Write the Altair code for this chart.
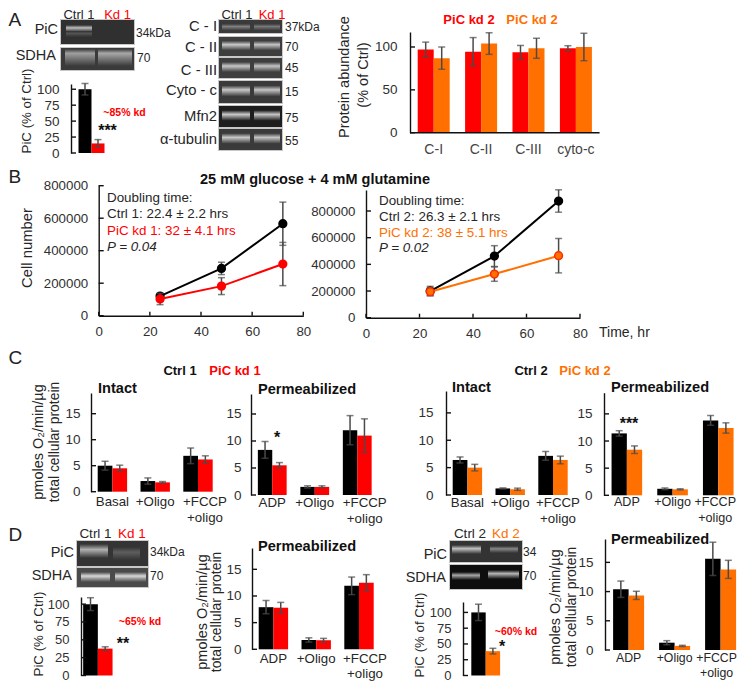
import altair as alt
import pandas as pd

# ---------- data ----------
A_groups = ["C-I", "C-II", "C-III", "cyto-c"]
A_red = [97, 94.5, 94, 98.5]
A_red_err = [8.7, 16.5, 7.8, 3]
A_org = [87, 104, 98.5, 100]
A_org_err = [13, 12.6, 11.7, 16]

hours = [24, 48, 72]
B1_ctrl = [121000, 291000, 566000]
B1_ctrl_err = [15000, 38000, 133000]
B1_kd = [103000, 182000, 318000]
B1_kd_err = [35000, 52000, 133000]
B2_ctrl = [200000, 462000, 875000]
B2_ctrl_err = [35000, 78000, 84000]
B2_kd = [195000, 327000, 465000]
B2_kd_err = [30000, 54000, 129000]

basal_groups = ["Basal", "+Oligo", "+FCCP\n+oligo"]
adp_groups = ["ADP", "+Oligo", "+FCCP\n+oligo"]
C1i_c, C1i_ce, C1i_k, C1i_ke = [5.0, 2.05, 6.9], [0.85, 0.6, 1.5], [4.5, 1.8, 6.2], [0.6, 0.15, 0.7]
C1p_c, C1p_ce, C1p_k, C1p_ke = [8.35, 1.5, 12.0], [1.55, 0.2, 2.7], [5.5, 1.5, 11.0], [0.5, 0.2, 3.1]
C2i_c, C2i_ce, C2i_k, C2i_ke = [6.4, 1.2, 7.15], [0.55, 0.1, 0.8], [5.0, 1.05, 6.4], [0.6, 0.2, 0.7]
C2p_c, C2p_ce, C2p_k, C2p_ke = [11.4, 1.2, 13.8], [0.5, 0.15, 0.9], [8.4, 1.1, 12.4], [0.7, 0.1, 0.95]
D1p_c, D1p_ce, D1p_k, D1p_ke = [7.9, 1.75, 11.9], [1.25, 0.4, 1.65], [7.8, 1.7, 12.5], [1.0, 0.35, 1.5]
D2p_c, D2p_ce, D2p_k, D2p_ke = [10.4, 1.25, 15.6], [1.4, 0.35, 2.85], [9.35, 0.7, 13.8], [0.7, 0.1, 1.55]

PiC_A, PiC_A_err = [100, 15], [9, 6]
PiC_D1, PiC_D1_err = [100, 37.7], [9, 2.5]
PiC_D2, PiC_D2_err = [100, 38.6], [13, 4.5]

mid_names = ["C - I", "C - II", "C - III", "Cyto - c", "Mfn2", "\u03b1-tubulin"]
mid_sizes = ["37kDa", "70", "45", "15", "75", "55"]

# ---------- style ----------
RED, ORG, BLK = "#ff0000", "#ff7000", "#000000"
FONT = "Liberation Sans"
INK = "#262626"
ERR = "#4a4a4a"
W, H = 729, 675
layers = []


def X(v):
    return v - 8


def Y(v):
    return v - 8


def label(text, x, y, size=13.4, color=INK, weight="normal", align="center", angle=0, style="normal", font=FONT):
    kw = dict(angle=angle) if angle else {}
    layers.append(
        alt.Chart(pd.DataFrame({"t": [text]}))
        .mark_text(fontSize=size, color=color, fontWeight=weight, align=align, baseline="middle",
                   fontStyle=style, font=font, **kw)
        .encode(x=alt.value(X(x)), y=alt.value(Y(y)), text="t:N")
    )


def y_axis(ticks, sy, ax, lab_gap, size=13.5, ticklen=5, fmt="d"):
    layers.append(
        alt.Chart(pd.DataFrame({"v": ticks}))
        .mark_rule(color="#111111", strokeWidth=1.4)
        .encode(
            y=alt.Y("v:Q", scale=sy, axis=alt.Axis(
                orient="left", offset=-X(ax), values=ticks, ticks=False, tickSize=0, grid=False, title=None,
                domain=True, domainColor="#111111", domainWidth=1.4, labelFontSize=size, labelFont=FONT,
                labelColor="#303030", labelPadding=lab_gap, format=fmt, labelOverlap=False, labelFlush=False)),
            x=alt.value(X(ax)), x2=alt.value(X(ax) + ticklen),
        )
    )


def x_axis(ticks, sx, ybase, lab_gap=8, size=13.3):
    layers.append(
        alt.Chart(pd.DataFrame({"v": ticks}))
        .mark_rule(color="#111111", strokeWidth=1.4)
        .encode(
            x=alt.X("v:Q", scale=sx, axis=alt.Axis(
                orient="bottom", offset=-(H - Y(ybase)), values=ticks, ticks=False, tickSize=0, grid=False,
                title=None, domain=True, domainColor="#111111", domainWidth=1.4, labelFontSize=size,
                labelFont=FONT, labelColor="#303030", labelPadding=lab_gap, format="d", labelOverlap=False,
                labelFlush=False)),
            y=alt.value(Y(ybase)), y2=alt.value(Y(ybase) - 4),
        )
    )


def errors(df, sx, sy, xf, color=ERR, width=1.5, cap=7):
    lo = df.assign(lo=df.v - df.e, hi=df.v + df.e)
    xe = alt.X(f"{xf}:Q", scale=sx, axis=None)
    layers.append(alt.Chart(lo).mark_rule(color=color, strokeWidth=width).encode(
        x=xe, y=alt.Y("lo:Q", scale=sy, axis=None), y2="hi:Q"))
    for f in ("lo", "hi"):
        layers.append(alt.Chart(lo).mark_tick(color=color, thickness=width, size=cap, orient="horizontal").encode(
            x=xe, y=alt.Y(f"{f}:Q", scale=sy, axis=None)))


def bars(names, s1, e1, s2, e2, c1, c2, x0, period, bw, ybase, ytop, vtop, ticks, lab_gap, label_y=None,
         ax=None, baseline=False, tick_size=13.5, cap=7, label_size=13.3, label_color=INK, line_h=16, last_shift=0):
    n = len(names)
    sx = alt.Scale(domain=[0, n], range=[X(x0), X(x0 + n * period)], nice=False, zero=False)
    sy = alt.Scale(domain=[0, vtop], range=[Y(ybase), Y(ytop)], nice=False, zero=False)
    pad = 0.5 - bw / period
    rows = []
    for i in range(n):
        rows.append(dict(a=i + pad, b=i + 0.5, c=i + pad + bw / period / 2, v=s1[i], e=e1[i], z=0, col=c1))
    for i in range(n):
        rows.append(dict(a=i + 0.5, b=i + 1 - pad, c=i + 0.5 + bw / period / 2, v=s2[i], e=e2[i], z=0, col=c2))
    df = pd.DataFrame(rows)
    for col, g in df.groupby("col", sort=False):
        layers.append(alt.Chart(g).mark_bar(color=col, cornerRadius=0).encode(
            x=alt.X("a:Q", scale=sx, axis=None), x2="b:Q",
            y=alt.Y("v:Q", scale=sy, axis=None), y2="z:Q"))
    errors(df, sx, sy, "c", cap=cap)
    if baseline:
        x_line = pd.DataFrame({"a": [0], "b": [n], "z": [0]})
        layers.append(alt.Chart(x_line).mark_rule(color="#111111", strokeWidth=1.4).encode(
            x=alt.X("a:Q", scale=sx, axis=None), x2="b:Q", y=alt.Y("z:Q", scale=sy, axis=None)))
    y_axis(ticks, sy, ax if ax is not None else x0, lab_gap, size=tick_size)
    if label_y is not None:
        centres = [i + 0.5 for i in range(n)]
        centres[-1] -= last_shift / period
        t = pd.DataFrame({"c": centres, "t": names})
        layers.append(alt.Chart(t).mark_text(fontSize=label_size, font=FONT, color=label_color, baseline="top",
                                             lineBreak="\n", lineHeight=line_h, align="center").encode(
            x=alt.X("c:Q", scale=sx, axis=None), y=alt.value(Y(label_y) - 7), text="t:N"))


def curve(t, ys, es, color, sx, sy, fill=None, ring=None):
    df = pd.DataFrame({"h": t, "v": ys, "e": es})
    xe = alt.X("h:Q", scale=sx, axis=None)
    ye = alt.Y("v:Q", scale=sy, axis=None)
    errors(df, sx, sy, "h", cap=7)
    layers.append(alt.Chart(df).mark_line(color=color, strokeWidth=2).encode(x=xe, y=ye))
    layers.append(alt.Chart(df).mark_point(filled=True, size=60, opacity=1, fill=fill or color,
                                           stroke=ring or color, strokeWidth=1.5).encode(x=xe, y=ye))


def rect(x0, y0, x1, y1, fill):
    layers.append(alt.Chart(pd.DataFrame({"k": [0]})).mark_rect(fill=fill).encode(
        x=alt.value(X(x0)), x2=alt.value(X(x1)), y=alt.value(Y(y0)), y2=alt.value(Y(y1))))


def vgrad(bg, hi, peak=0.4):
    return {"gradient": "linear", "x1": 0, "y1": 0, "x2": 0, "y2": 1,
            "stops": [{"offset": 0, "color": bg}, {"offset": peak, "color": hi}, {"offset": 1, "color": bg}]}


def blot(x0, y0, x1, y1, bg, bands):
    # each band is (left, right, top, bottom, colour[, peak])
    rect(x0 - 1, y0 - 1, x1 + 1, y1 + 1, "#c8c8c8")
    rect(x0, y0, x1, y1, bg)
    for b in bands:
        rect(b[0], b[2], b[1], b[3], vgrad(bg, b[4], b[5] if len(b) > 5 else 0.4))


STAR = dict(size=16, color="#111111", weight="bold")

# ---------- panel letters ----------
for letter, y in (("A", 20), ("B", 177), ("C", 358), ("D", 535)):
    label(letter, 8.5, y, size=19, color="#222222", align="left")

# ---------- panel A ----------
label("Ctrl 1", 79, 15, size=13)
label("Kd 1", 117.5, 15, size=13, color=RED)
blot(61, 20, 134, 44, "#303030", [(66, 92, 25, 32, "#bcbcbc"), (66, 92, 31, 37, "#555555")])
blot(61, 48, 134, 70, "#3a3a3a", [(65, 95, 49, 66, "#a0a0a0", 0.25), (98, 132, 49, 66, "#a8a8a8", 0.25)])
label("PiC", 58, 30, size=14.5, align="right")
label("SDHA", 56, 56, size=14.5, align="right")
label("34kDa", 136, 33, size=12, align="left")
label("70", 137, 58, size=12, align="left")

bars(["a"], PiC_A[:1], PiC_A_err[:1], PiC_A[1:], PiC_A_err[1:], BLK, RED, 71, 2 * 20.5, 13, 153, 84, 108.2,
     [0, 25, 50, 75, 100], 12)
label("PiC (% of Ctrl)", 27, 111, size=13.3, angle=270)
label("~85% kd", 124.5, 113, size=10.5, color=RED, weight="bold")
label("***", 107.5, 131, **STAR)

# middle blots
label("Ctrl 1", 237, 15, size=13)
label("Kd 1", 272, 15, size=13, color=RED)
rows = [(20, 33), (37, 56), (58, 78), (81, 103), (106, 127), (129, 150)]
bgs = ["#3a3a3a", "#3e3e3e", "#3e3e3e", "#3a3a3a", "#1e1e1e", "#3a3a3a"]
name_y = [27, 48, 71, 91, 117, 140]
size_y = [27, 47, 68, 92, 118, 141]
for (y0, y1), bg, nm, sz, ny, zy in zip(rows, bgs, mid_names, mid_sizes, name_y, size_y):
    h = y1 - y0
    bands = [(222, 250, y0 + 0.2 * h, y0 + 0.7 * h, "#c8c8c8"), (254, 280, y0 + 0.2 * h, y0 + 0.7 * h, "#c4c4c4")]
    if nm == "C - I":
        bands = [(222, 250, y0 + 0.3 * h, y0 + 0.8 * h, "#808080"), (254, 280, y0 + 0.3 * h, y0 + 0.8 * h, "#787878")]
    blot(219, y0, 282, y1, bg, bands)
    label(nm, 217, ny, size=14.8, align="right")
    label(sz, 285, zy, size=12, align="left")

# right bars
label("PiC kd 2", 469, 20, size=13, color=RED, weight="bold")
label("PiC kd 2", 532, 20, size=13, color=ORG, weight="bold")
bars(A_groups, A_red, A_red_err, A_org, A_org_err, RED, ORG, 410, 47.4, 16, 132.7, 32, 117.5, [0, 50, 100], 13,
     label_y=150, baseline=True, cap=7, label_color="#444444", label_size=14)
label("Protein abundance", 345, 77, size=14.5, angle=270)
label("(% of Ctrl)", 364, 75, size=14.5, angle=270)

# ---------- panel B ----------
label("25 mM glucose + 4 mM glutamine", 315, 180, size=14.5, color="#111111", weight="bold")
sx1 = alt.Scale(domain=[0, 80], range=[X(98.7), X(303.3)], nice=False, zero=False)
sy1 = alt.Scale(domain=[0, 800000 * (315.7 - 185) / (315.7 - 185.7)], range=[Y(315.7), Y(185)], nice=False, zero=False)
y_axis([0, 200000, 400000, 600000, 800000], sy1, 98.7, 11, size=13.3, fmt="d")
x_axis([0, 20, 40, 60, 80], sx1, 315.7, lab_gap=9)
curve(hours, B1_ctrl, B1_ctrl_err, BLK, sx1, sy1)
curve(hours, B1_kd, B1_kd_err, RED, sx1, sy1)
label("Cell number", 28, 248, size=14.8, angle=270)
label("Doubling time:", 107, 198, align="left")
label("Ctrl 1: 22.4 \u00b1 2.2 hrs", 107, 214, align="left")
label("PiC kd 1: 32 \u00b1 4.1 hrs", 107, 231, color=RED, align="left")
label("P = 0.04", 107, 247, align="left", style="italic")

sx2 = alt.Scale(domain=[0, 80], range=[X(366), X(580)], nice=False, zero=False)
sy2 = alt.Scale(domain=[0, 957500], range=[Y(317.7), Y(190)], nice=False, zero=False)
y_axis([0, 200000, 400000, 600000, 800000], sy2, 366, 11, size=13.3)
x_axis([0, 20, 40, 60, 80], sx2, 317.7, lab_gap=9)
curve(hours, B2_ctrl, B2_ctrl_err, BLK, sx2, sy2)
curve(hours, B2_kd, B2_kd_err, ORG, sx2, sy2, fill="#ff7000", ring="#ff2a00")
label("Doubling time:", 379, 201, align="left")
label("Ctrl 2: 26.3 \u00b1 2.1 hrs", 379, 217, align="left")
label("PiC kd 2: 38 \u00b1 5.1 hrs", 379, 233, color=ORG, align="left")
label("P = 0.02", 379, 248, align="left", style="italic")
label("Time, hr", 599, 333, size=14, align="left")

# ---------- panel C ----------
label("Ctrl 1", 180, 371, size=13, color="#111111", weight="bold")
label("PiC kd 1", 235, 371, size=13, color=RED, weight="bold")
label("Ctrl 2", 531, 371, size=13, color="#111111", weight="bold")
label("PiC kd 2", 585, 371, size=13, color=ORG, weight="bold")
for t, x, y in (("Intact", 98, 389), ("Permeabilized", 258, 390), ("Intact", 452, 388), ("Permeabilized", 611, 388),
                ("Permeabilized", 258, 547), ("Permeabilized", 611, 540)):
    label(t, x, y, size=14.6, color="#111111", weight="bold", align="left")

bars(basal_groups, C1i_c, C1i_ce, C1i_k, C1i_ke, BLK, RED, 91, 42.8, 14.7, 491.7, 393, 18.98, [0, 5, 10, 15], 11,
     label_y=502, last_shift=-7)
bars(adp_groups, C1p_c, C1p_ce, C1p_k, C1p_ke, BLK, RED, 251, 42.5, 14.4, 495, 394, 18.7, [0, 5, 10, 15], 10,
     label_y=502.7, last_shift=-7.5)
bars(basal_groups, C2i_c, C2i_ce, C2i_k, C2i_ke, BLK, ORG, 446, 42.8, 14.7, 495, 391, 19.0, [0, 5, 10, 15], 13,
     label_y=503, last_shift=-5)
bars(adp_groups, C2p_c, C2p_ce, C2p_k, C2p_ke, BLK, ORG, 604, 45.7, 15.3, 495.3, 392.7, 18.9, [0, 5, 10, 15], 12,
     label_y=503, last_shift=3, label_size=12.6)
label("pmoles O\u2082/min/\u00b5g", 39, 442, size=14.5, angle=270)
label("total cellular protein", 55, 442, size=13.9, angle=270)
label("*", 277, 438, **STAR)
label("***", 629, 424, **STAR)

# ---------- panel D ----------
label("Ctrl 1", 95.5, 534, size=13.5)
label("Kd 1", 132, 534, size=13.5, color=RED)
blot(77, 541, 148, 566, "#343434", [(80, 108, 544, 558, "#b0b0b0"), (113, 140, 547, 560, "#5e5e5e")])
blot(77, 568, 148, 587, "#4a4a4a", [(81, 110, 572, 582, "#d8d8d8"), (115, 146, 572, 582, "#d8d8d8")])
label("PiC", 74, 553, size=14.5, align="right")
label("SDHA", 72, 576, size=14.5, align="right")
label("34kDa", 150, 552, size=12, align="left")
label("70", 150, 576, size=12, align="left")
bars(["a"], PiC_D1[:1], PiC_D1_err[:1], PiC_D1[1:], PiC_D1_err[1:], BLK, RED, 81, 2 * 16.85, 14.7, 675.5, 597, 110,
     [0, 25, 50, 75, 100], 12, tick_size=13)
label("PiC (% of Ctrl)", 39, 634, size=13.3, angle=270)
label("~65% kd", 140, 622, size=10.5, color=RED, weight="bold")
label("**", 123, 644, **STAR)

bars(adp_groups, D1p_c, D1p_ce, D1p_k, D1p_ke, BLK, RED, 252, 42.8, 14.7, 649.3, 548, 19.0, [0, 5, 10, 15], 11,
     label_y=659, line_h=14.5, last_shift=-6)
label("pmoles O\u2082/min/\u00b5g", 203, 612, size=14.5, angle=270)
label("total cellular protein", 217, 612, size=13.9, angle=270)

label("Ctrl 2", 470, 534, size=13.5)
label("Kd 2", 506, 534, size=13.5, color=ORG)
blot(450, 541, 522, 562, "#333333", [(452, 481, 545, 554, "#c0c0c0"), (490, 518, 546, 553, "#888888")])
blot(450, 565, 522, 589, "#0e0e0e", [(452, 480, 572, 580, "#a8a8a8"), (488, 519, 570, 579, "#b4b4b4")])
label("PiC", 447, 555, size=14.5, align="right")
label("SDHA", 446, 578, size=14.5, align="right")
label("34", 523, 552, size=12, align="left")
label("70", 523, 576, size=12, align="left")
bars(["a"], PiC_D2[:1], PiC_D2_err[:1], PiC_D2[1:], PiC_D2_err[1:], BLK, ORG, 463, 45.4, 14.4, 675.5, 602, 116.5,
     [0, 25, 50, 75, 100], 12, tick_size=13)
label("PiC (% of Ctrl)", 420, 635, size=13.3, angle=270)
label("~60% kd", 516, 632, size=10.5, color=RED, weight="bold")
label("*", 502, 647, **STAR)

bars(adp_groups, D2p_c, D2p_ce, D2p_k, D2p_ke, BLK, ORG, 605.6, 46, 15.5, 650, 539, 19.0, [0, 5, 10, 15], 12,
     label_y=659, ax=605, line_h=14.5, last_shift=4, label_size=12.3)
label("pmoles O\u2082/min/\u00b5g", 556, 607, size=14.5, angle=270)
label("total cellular protein", 572, 607, size=13.9, angle=270)

chart = (
    alt.layer(*layers)
    .resolve_scale(x="independent", y="independent")
    .resolve_axis(x="independent", y="independent")
    .properties(width=W, height=H, padding=0, autosize=alt.AutoSizeParams(type="none"), background="white")
    .configure_view(stroke=None)
)
chart.save("out.html", embed_options={"renderer": "svg", "actions": False})
